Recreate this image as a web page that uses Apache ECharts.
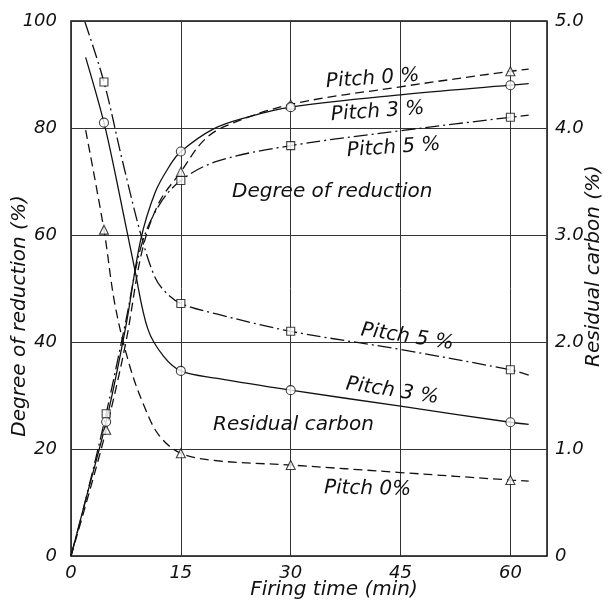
<!DOCTYPE html>
<html>
<head>
<meta charset="utf-8">
<script src="https://cdn.jsdelivr.net/npm/echarts@6/dist/echarts.min.js"></script>
<style>
html,body{margin:0;padding:0;background:#fff;}
#chart{width:608px;height:606px;}
</style>
</head>
<body>
<div id="chart"></div>
<script>
// ---- measured points (markers) ----
const xRed = [4.8, 15, 30, 60];
const xRes = [4.5, 15, 30, 60];
const redP0 = [23.6, 71.8, 84.4, 90.6];
const redP3 = [25.1, 75.6, 83.9, 88.0];
const redP5 = [26.6, 70.2, 76.7, 82.0];
const resP0 = [3.05, 0.96, 0.85, 0.71];
const resP3 = [4.05, 1.73, 1.55, 1.25];
const resP5 = [4.43, 2.36, 2.10, 1.74];

// ---- curves [time, value] ----
const redCurveP0 = [[0,0],[2,9.5],[4.8,23.6],[7.5,40],[9.7,57],[12,66],[15,71.8],[18,77.5],[21,80.3],[30,84.4],[45,87.7],[60,90.6],[62.5,91]];
const redCurveP3 = [[0,0],[2,10.5],[4.8,25.1],[7.5,43],[9.5,59],[11.5,68],[13.5,73],[15,75.6],[19.4,79.8],[24,82],[30,83.9],[45,86.2],[60,88],[62.5,88.3]];
const redCurveP5 = [[0,0],[2,10.5],[4.8,26.6],[7.5,44],[9.6,58],[12,65.5],[15,70.2],[20,73.8],[30,76.7],[45,79.5],[60,82],[62.5,82.4]];
const resCurveP0 = [[2.0,3.98],[4.5,3.05],[6,2.35],[8,1.78],[10,1.4],[12,1.13],[15,0.96],[20,0.89],[30,0.85],[45,0.78],[60,0.71],[62.5,0.70]];
const resCurveP3 = [[2.0,4.66],[4.5,4.05],[6.2,3.52],[8.7,2.68],[10.5,2.12],[12.6,1.87],[15,1.73],[20,1.66],[30,1.55],[45,1.40],[60,1.25],[62.5,1.23]];
const resCurveP5 = [[1.9,4.99],[4.5,4.43],[7,3.7],[9.6,2.99],[11.5,2.6],[13,2.46],[15,2.36],[20,2.26],[30,2.10],[45,1.93],[60,1.74],[62.5,1.69]];

const xTicks = [0, 15, 30, 45, 60];
const leftTicks = [0, 20, 40, 60, 80, 100];
const rightTicks = ['0', '1.0', '2.0', '3.0', '4.0', '5.0'];

const FONT = '"DejaVu Sans", sans-serif';
const INK = '#111';
const dashP0 = [9, 5];
const dashP5 = [14, 4, 2, 4];

function pairs(xs, ys){ return xs.map((x,i)=>[x, ys[i]]); }

function curve(name, data, yIdx, type){
  return {name, type:'line', yAxisIndex:yIdx, data, showSymbol:false, smooth:0.35,
    lineStyle:{color:INK, width:1.3, type}, z:2, silent:true};
}
function marks(data, yIdx, symbol, size){
  return {type:'scatter', yAxisIndex:yIdx, data, symbol, symbolSize:size,
    itemStyle:{color:'#fff', borderColor:INK, borderWidth:1.1}, z:5, silent:true};
}

const labelStyle = {fontFamily:FONT, fontStyle:'italic', fontSize:18, color:INK};

function txt(text, x, y, rot, align, size){
  return {type:'text', x, y, rotation:rot||0, z:20,
    style:{text, font:'italic '+(size||20)+'px "DejaVu Sans"', fill:INK,
      textAlign:align||'left', textVerticalAlign:'middle'}};
}

const chart = echarts.init(document.getElementById('chart'));
chart.setOption({
  animation:false,
  backgroundColor:'#fff',
  grid:{left:71, right:61, top:21, bottom:50, show:true, borderColor:INK, borderWidth:1.5},
  xAxis:{type:'value', min:0, max:65, interval:15,
    axisLine:{show:false}, axisTick:{show:false},
    splitLine:{show:true, lineStyle:{color:'#333', width:1}},
    axisLabel:Object.assign({margin:8, showMaxLabel:false,
      formatter:v=> xTicks.includes(v) ? String(v) : ''}, labelStyle)},
  yAxis:[
    {type:'value', min:0, max:100, interval:20,
      axisLine:{show:false}, axisTick:{show:false},
      splitLine:{show:true, lineStyle:{color:'#333', width:1}},
      axisLabel:Object.assign({margin:14, formatter:v=> leftTicks.includes(v)? String(v):''}, labelStyle)},
    {type:'value', min:0, max:5, interval:1, position:'right',
      axisLine:{show:false}, axisTick:{show:false}, splitLine:{show:false},
      axisLabel:Object.assign({margin:8, formatter:v=> rightTicks[Math.round(v)]}, labelStyle)}
  ],
  series:[
    curve('redP0', redCurveP0, 0, dashP0),
    curve('redP3', redCurveP3, 0, 'solid'),
    curve('redP5', redCurveP5, 0, dashP5),
    curve('resP0', resCurveP0, 1, dashP0),
    curve('resP3', resCurveP3, 1, 'solid'),
    curve('resP5', resCurveP5, 1, dashP5),
    marks(pairs(xRed, redP0), 0, 'triangle', 9),
    marks(pairs(xRed, redP3), 0, 'circle', 9),
    marks(pairs(xRed, redP5), 0, 'rect', 8),
    marks(pairs(xRes, resP0), 1, 'triangle', 9),
    marks(pairs(xRes, resP3), 1, 'circle', 9),
    marks(pairs(xRes, resP5), 1, 'rect', 8)
  ],
  graphic:[
    txt('Degree of reduction (%)', 20, 316, Math.PI/2, 'center', 20),
    txt('Residual carbon (%)', 594, 266, Math.PI/2, 'center', 20),
    txt('Firing time (min)', 334, 590, 0, 'center', 20),
    txt('Pitch 0 %', 326, 82, 0.07),
    txt('Pitch 3 %', 331, 115, 0.07),
    txt('Pitch 5 %', 347, 151, 0.07),
    txt('Degree of reduction', 232, 192, 0),
    txt('Pitch 5 %', 361, 330, -0.15),
    txt('Pitch 3 %', 346, 384, -0.15),
    txt('Residual carbon', 213, 425, 0),
    txt('Pitch 0%', 324, 488, -0.02)
  ]
});
</script>
</body>
</html>
